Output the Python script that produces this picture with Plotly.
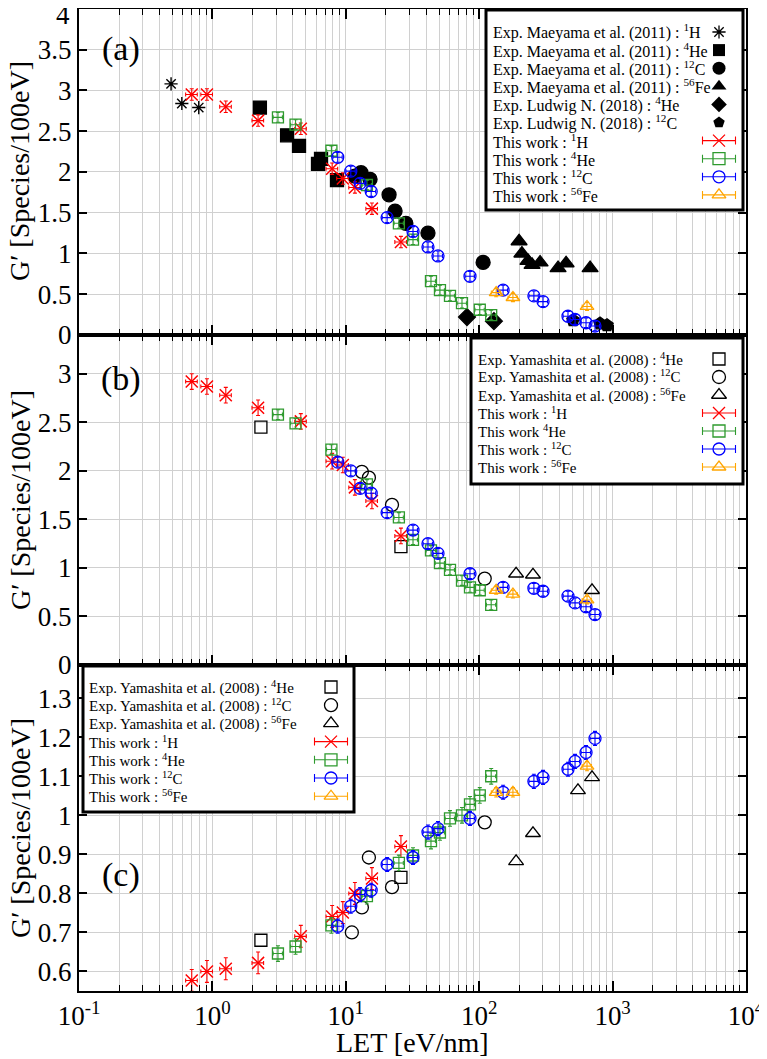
import plotly.graph_objects as go

# ── Data (LET in eV/nm, G' in species/100eV) ────────────────────────────────

# This work
LET_H  = [0.70, 0.91, 1.26, 2.2, 4.6, 7.9, 9.5, 11.7, 15.7, 25.9]
LET_HE = [3.1, 4.2, 7.8, 14.4, 25.0, 31.9, 43.5, 50.8, 60.4, 74.3, 85.3, 101, 123]
LET_C  = [8.7, 10.9, 12.8, 15.5, 20.4, 31.9, 41.3, 49.1, 85.3, 151, 257, 301, 463, 523, 632, 738]
LET_FE = [134, 179, 643]

G_H_A  = [2.95, 2.95, 2.80, 2.63, 2.53, 2.04, 1.92, 1.81, 1.55, 1.14]
G_HE_A = [2.67, 2.58, 2.26, 1.84, 1.37, 1.17, 0.66, 0.55, 0.48, 0.39, None, 0.31, 0.245]
G_C_A  = [2.18, 2.01, 1.86, 1.76, 1.44, 1.27, 1.08, 0.97, 0.72, 0.55, 0.48, 0.41, 0.23, 0.19, 0.15, 0.11]
G_FE_A = [0.52, 0.46, 0.35]

G_H_B  = [2.92, 2.87, 2.78, 2.65, 2.51, 2.10, 2.06, 1.83, 1.69, 1.33]
G_HE_B = [2.58, 2.49, 2.22, 1.86, 1.52, 1.29, 1.18, 1.05, 0.98, 0.87, 0.80, 0.77, 0.62]
G_C_B  = [2.09, 2.00, 1.82, 1.77, 1.57, 1.39, 1.25, 1.15, 0.94, 0.80, 0.79, 0.76, 0.71, 0.64, 0.60, 0.52]
G_FE_B = [0.77, 0.73, 0.67]

G_H_C  = [0.577, 0.600, 0.607, 0.622, 0.690, 0.741, 0.751, 0.800, 0.838, 0.920]
G_HE_C = [0.646, 0.664, 0.718, 0.793, 0.878, 0.897, 0.934, 0.956, 0.992, 1.000, 1.028, 1.051, 1.100]
G_C_C  = [0.716, 0.767, 0.797, 0.808, 0.874, 0.892, 0.957, 0.966, 0.992, 1.059, 1.087, 1.097, 1.118, 1.138, 1.161, 1.197]
G_FE_C = [1.059, 1.059, 1.126]

# Exp. Maeyama et al. (2011) / Ludwig N. (2018)  -- panel (a)
MAE_H_LET  = [0.49, 0.59, 0.79]
MAE_H_G    = [3.08, 2.84, 2.79]
MAE_HE_LET = [2.27, 3.63, 4.46, 6.19, 6.52, 8.59]
MAE_HE_G   = [2.79, 2.45, 2.32, 2.10, 2.16, 1.90]
MAE_C_LET  = [11.7, 13.0, 15.2, 21.1, 23.4, 28.2, 41.3, 107]
MAE_C_G    = [1.95, 1.99, 1.91, 1.72, 1.52, 1.37, 1.25, 0.89]
MAE_FE_LET = [199, 209, 232, 249, 286, 390, 448, 678]
MAE_FE_G   = [1.15, 1.00, 0.91, 0.86, 0.89, 0.82, 0.88, 0.82]
LUD_HE_LET = [81, 129]
LUD_HE_G   = [0.22, 0.17]
LUD_C_LET  = [505, 805, 908]
LUD_C_G    = [0.18, 0.14, 0.12]

# Exp. Yamashita et al. (2008) -- panels (b) and (c)
YAM_HE_LET = [2.31, 25.9]
YAM_HE_B   = [2.45, 1.22]
YAM_HE_C   = [0.68, 0.841]
YAM_C_LET  = [11.1, 13.2, 14.9, 22.2, 110]
YAM_C_B    = [None, 1.99, 1.93, 1.65, 0.89]
YAM_C_C    = [0.70, 0.764, 0.892, 0.816, 0.982]
YAM_FE_LET = [189, 253, 550, 701]
YAM_FE_B   = [0.94, 0.93, None, 0.77]
YAM_FE_C   = [0.882, 0.954, 1.064, 1.097]

X_TICKS  = [0.1, 1, 10, 100, 1000, 10000]
X_LABELS = ["10<sup>-1</sup>", "10<sup>0</sup>", "10<sup>1</sup>",
            "10<sup>2</sup>", "10<sup>3</sup>", "10<sup>4</sup>"]

# ── Layout geometry (page pixels; the html body adds an 8 px margin) ────────

OFF = 8
PAGE_W, PAGE_H = 767, 1059
W, H = PAGE_W - OFF, PAGE_H - OFF
P_LEFT, P_RIGHT, P_TOP, P_BOT = 79, 746, 9, 991     # plot area on the page
L, T = P_LEFT - OFF, P_TOP - OFF
R, B = W - (P_RIGHT - OFF), H - (P_BOT - OFF)
PLOT_W, PLOT_H = P_RIGHT - P_LEFT, P_BOT - P_TOP


def fy(py):            # page y -> paper y
    return (P_BOT - py) / PLOT_H


def fx(px):            # page x -> paper x
    return (px - P_LEFT) / PLOT_W


DOM_A = [fy(335), 1.0]
DOM_B = [fy(665), fy(335)]
DOM_C = [0.0, fy(665)]

FONT = "Liberation Serif"
RED, GREEN, BLUE, ORANGE = "#ff0000", "#2e9a2e", "#0000ff", "#ffa500"
GRID = "#d0d0d0"

fig = go.Figure()


def pts(x, y, xa, ya, symbol, color, size=12, lw=1.3, ey=None, expct=None):
    kw = {}
    if ey is not None:
        kw["error_y"] = dict(type="constant", value=ey, color=color, thickness=1.1, width=2)
    if expct is not None:
        kw["error_x"] = dict(type="percent", value=expct, color=color, thickness=1.1, width=2)
    fig.add_trace(go.Scatter(
        x=x, y=y, xaxis=xa, yaxis=ya, mode="markers", showlegend=False,
        hoverinfo="skip", cliponaxis=False,
        marker=dict(symbol=symbol, size=size, color=color,
                    line=dict(color=color, width=lw)),
        **kw,
    ))


# panel (a)
pts(MAE_H_LET, MAE_H_G, "x", "y", "asterisk-open", "black", size=11, lw=1.4)
pts(MAE_HE_LET, MAE_HE_G, "x", "y", "square", "black", size=13)
pts(MAE_C_LET, MAE_C_G, "x", "y", "circle", "black", size=14)
pts(MAE_FE_LET, MAE_FE_G, "x", "y", "triangle-up", "black", size=14)
pts(LUD_HE_LET, LUD_HE_G, "x", "y", "diamond", "black", size=13)
pts(LUD_C_LET, LUD_C_G, "x", "y", "pentagon", "black", size=13)
pts(LET_H, G_H_A, "x", "y", "x-thin-open", RED, lw=1.5, ey=0.07, expct=10)
pts(LET_HE, G_HE_A, "x", "y", "square-open", GREEN, size=11, ey=0.06, expct=8)
pts(LET_C, G_C_A, "x", "y", "circle-open", BLUE, size=12, ey=0.06, expct=8)
pts(LET_FE, G_FE_A, "x", "y", "triangle-up-open", ORANGE, size=12, ey=0.05, expct=8)

# panel (b)
pts(YAM_HE_LET, YAM_HE_B, "x2", "y2", "square-open", "black", size=12)
pts(YAM_C_LET, YAM_C_B, "x2", "y2", "circle-open", "black", size=13)
pts(YAM_FE_LET, YAM_FE_B, "x2", "y2", "triangle-up-open", "black", size=13)
pts(LET_H, G_H_B, "x2", "y2", "x-thin-open", RED, lw=1.5, ey=0.08, expct=10)
pts(LET_HE, G_HE_B, "x2", "y2", "square-open", GREEN, size=11, ey=0.05, expct=8)
pts(LET_C, G_C_B, "x2", "y2", "circle-open", BLUE, size=12, ey=0.05, expct=8)
pts(LET_FE, G_FE_B, "x2", "y2", "triangle-up-open", ORANGE, size=12, ey=0.04, expct=8)

# panel (c)
pts(YAM_HE_LET, YAM_HE_C, "x3", "y3", "square-open", "black", size=12)
pts(YAM_C_LET, YAM_C_C, "x3", "y3", "circle-open", "black", size=13)
pts(YAM_FE_LET, YAM_FE_C, "x3", "y3", "triangle-up-open", "black", size=13)
pts(LET_H, G_H_C, "x3", "y3", "x-thin-open", RED, lw=1.5, ey=0.028, expct=10)
pts(LET_HE, G_HE_C, "x3", "y3", "square-open", GREEN, size=11, ey=0.02, expct=8)
pts(LET_C, G_C_C, "x3", "y3", "circle-open", BLUE, size=12, ey=0.018, expct=8)
pts(LET_FE, G_FE_C, "x3", "y3", "triangle-up-open", ORANGE, size=12, ey=0.012, expct=8)

# ── Legends (drawn on an overlay axis measured in page pixels) ─────────────

EXP_A = [
    ("Exp. Maeyama et al. (2011) : <sup>1</sup>H", "asterisk-open", "black", 11),
    ("Exp. Maeyama et al. (2011) : <sup>4</sup>He", "square", "black", 12),
    ("Exp. Maeyama et al. (2011) : <sup>12</sup>C", "circle", "black", 13),
    ("Exp. Maeyama et al. (2011) : <sup>56</sup>Fe", "triangle-up", "black", 13),
    ("Exp. Ludwig N. (2018) : <sup>4</sup>He", "diamond", "black", 12),
    ("Exp. Ludwig N. (2018) : <sup>12</sup>C", "pentagon", "black", 12),
]
EXP_BC = [
    ("Exp. Yamashita et al. (2008) : <sup>4</sup>He", "square-open", "black", 12),
    ("Exp. Yamashita et al. (2008) : <sup>12</sup>C", "circle-open", "black", 13),
    ("Exp. Yamashita et al. (2008) : <sup>56</sup>Fe", "triangle-up-open", "black", 13),
]
WORK = [
    ("This work : <sup>1</sup>H", "x-thin-open", RED, 12),
    ("This work : <sup>4</sup>He", "square-open", GREEN, 12),
    ("This work : <sup>12</sup>C", "circle-open", BLUE, 12),
    ("This work : <sup>56</sup>Fe", "triangle-up-open", ORANGE, 12),
]
WORK_B = [WORK[0], ("This work <sup>4</sup>He",) + WORK[1][1:], WORK[2], WORK[3]]

annotations = []
shapes = []


def legend(box, text_x, sym_x, y0, dy, entries, n_exp, fsize):
    x0, y_top, x1, y_bot = box
    shapes.append(dict(type="rect", xref="x4", yref="y4", x0=x0, x1=x1, y0=y_top, y1=y_bot,
                       line=dict(color="black", width=3), fillcolor="white", layer="below"))
    for i, (txt, sym, col, size) in enumerate(entries):
        y = y0 + i * dy
        annotations.append(dict(xref="paper", yref="paper", x=fx(text_x), y=fy(y), text=txt,
                                showarrow=False, xanchor="left", yanchor="middle",
                                font=dict(family=FONT, size=fsize, color="black")))
        kw = {}
        if i >= n_exp:
            kw["error_x"] = dict(type="constant", value=16.5, color=col, thickness=1.1, width=4)
        open_sym = sym.endswith("open")
        fig.add_trace(go.Scatter(
            x=[sym_x], y=[y], xaxis="x4", yaxis="y4", mode="markers",
            showlegend=False, hoverinfo="skip", cliponaxis=False,
            marker=dict(symbol=sym, size=size, color=col,
                        line=dict(color=col, width=1.3 if open_sym else 0)),
            **kw,
        ))


legend((486, 10, 743, 210), 491, 719, 32, 18.1, EXP_A + WORK, len(EXP_A), 16)
legend((471, 338, 743, 484), 476, 719, 359, 18.0, EXP_BC + WORK_B, len(EXP_BC), 15)
legend((83, 666, 354, 812), 87, 331, 687, 18.2, EXP_BC + WORK, len(EXP_BC), 15)

title_font = dict(family=FONT, size=28, color="black")
tick_font = dict(family=FONT, size=27, color="black")

for lab, y in [("(a)", 49), ("(b)", 379), ("(c)", 875)]:
    annotations.append(dict(xref="paper", yref="paper", x=fx(121), y=fy(y), text=lab,
                            showarrow=False, xanchor="center", yanchor="middle",
                            font=dict(family=FONT, size=34, color="black")))

for yc in [171, 500, 828]:
    annotations.append(dict(xref="paper", yref="paper", x=fx(20), y=fy(yc),
                            text="G′ [Species/100eV]", textangle=-90, showarrow=False,
                            xanchor="center", yanchor="middle", font=title_font))

annotations.append(dict(xref="paper", yref="paper", x=fx(412), y=fy(1042),
                        text="LET [eV/nm]", showarrow=False,
                        xanchor="center", yanchor="middle", font=title_font))

# top label of panel (a) sits on the page edge, so it is placed by hand
annotations.append(dict(xref="paper", yref="paper", x=fx(72), y=fy(15), text="4",
                        showarrow=False, xanchor="right", yanchor="middle", font=tick_font))

# ── Axes ────────────────────────────────────────────────────────────────────


def xaxis(anchor, labels):
    return dict(
        type="log", range=[-1, 4], anchor=anchor, automargin=False,
        tickmode="array", tickvals=X_TICKS, ticktext=X_LABELS, showticklabels=labels,
        ticks="inside", ticklen=10, tickwidth=1.5, tickcolor="black",
        showline=True, linewidth=2, linecolor="black", mirror="ticks",
        showgrid=True, gridcolor=GRID, gridwidth=1, zeroline=False,
        minor=dict(ticks="inside", ticklen=6, tickwidth=1.2, tickcolor="black",
                   dtick="D1", showgrid=True, gridcolor=GRID, gridwidth=1),
        tickfont=tick_font, ticklabeloverflow="allow",
    )


def yaxis(anchor, dom, rng, dtick):
    return dict(
        domain=dom, range=rng, anchor=anchor, dtick=dtick, tick0=0, automargin=False,
        ticks="inside", ticklen=8, tickwidth=1.5, tickcolor="black",
        showline=True, linewidth=2, linecolor="black", mirror="ticks",
        showgrid=True, gridcolor=GRID, gridwidth=1, zeroline=False,
        tickfont=tick_font, ticklabeloverflow="allow",
    )


fig.update_layout(
    width=W, height=H,
    margin=dict(l=L, r=R, t=T, b=B),
    paper_bgcolor="white",
    plot_bgcolor="rgba(0,0,0,0)",
    font=dict(family=FONT, color="black"),
    showlegend=False,
    xaxis=xaxis("y", False), xaxis2=xaxis("y2", False), xaxis3=xaxis("y3", True),
    yaxis=yaxis("x", DOM_A, [0, 3.999], 0.5),
    yaxis2=yaxis("x2", DOM_B, [0, 3.4], 0.5),
    yaxis3=yaxis("x3", DOM_C, [0.55, 1.385], 0.1),
    xaxis4=dict(domain=[0, 1], range=[P_LEFT, P_RIGHT], anchor="y4", visible=False,
                fixedrange=True, automargin=False),
    yaxis4=dict(domain=[0, 1], range=[P_BOT, P_TOP], anchor="x4", visible=False,
                fixedrange=True, automargin=False),
    annotations=annotations,
    shapes=shapes,
)

fig.write_html("out.html")
